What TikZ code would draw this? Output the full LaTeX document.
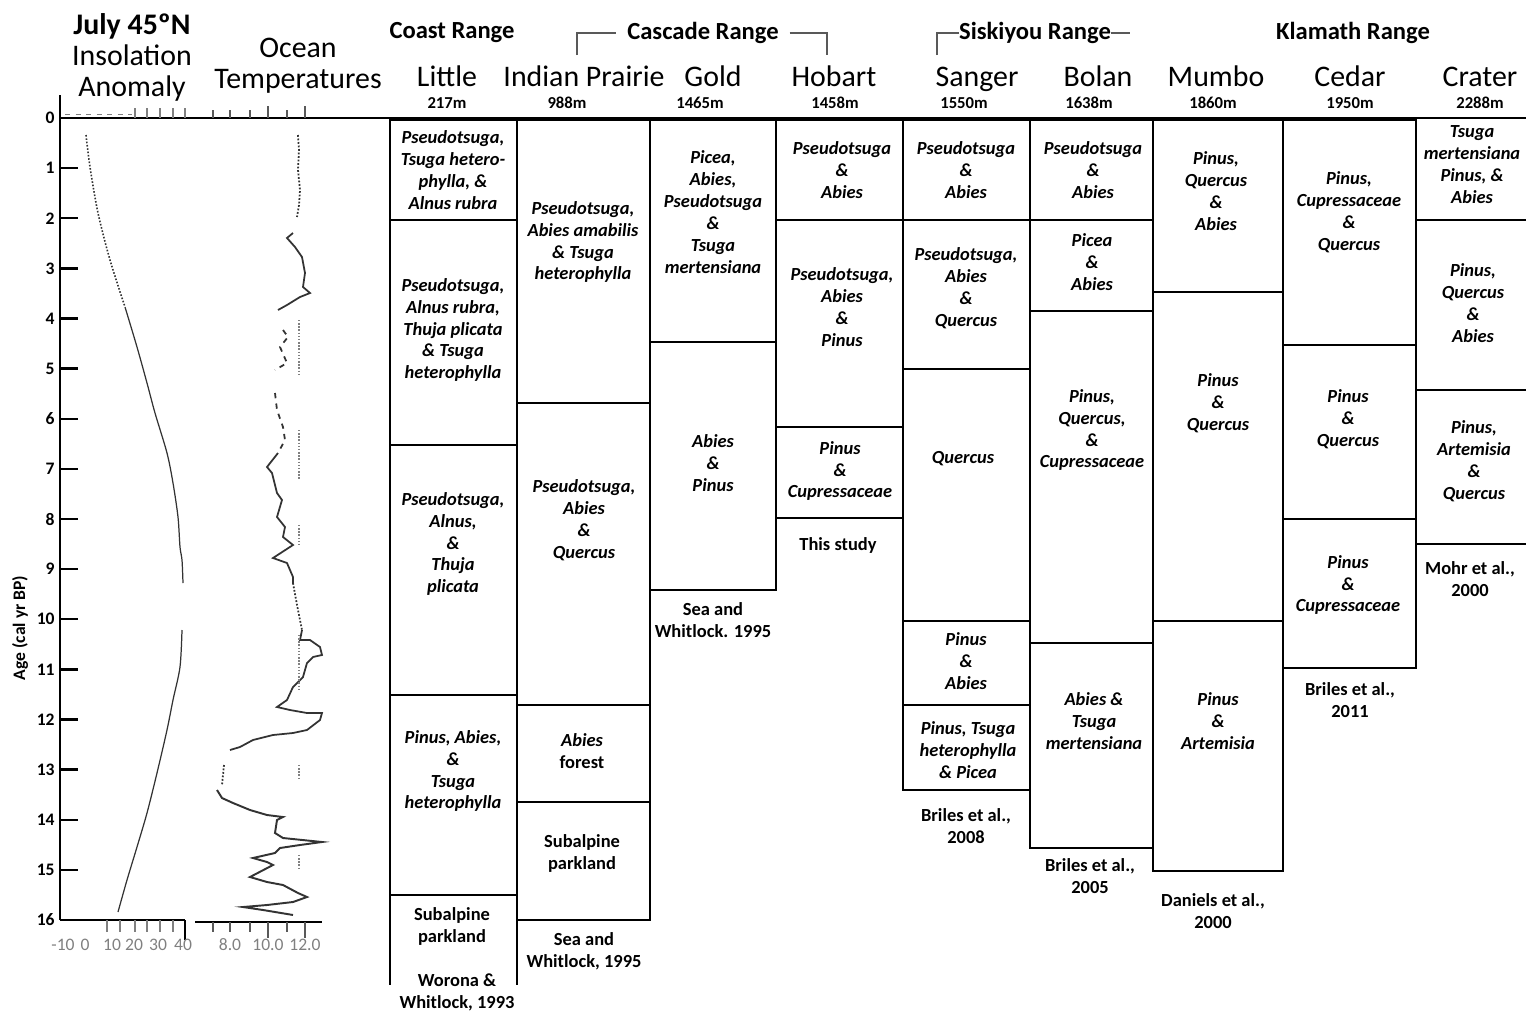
\documentclass[tikz,border=0pt]{standalone}
\usepackage{fontspec}
\setmainfont{Carlito}
\usepackage{tikz}
\usetikzlibrary{positioning}

\begin{document}
\begin{tikzpicture}[x=0.02cm, y=-0.02cm,
  zone/.style={draw, line width=1.4pt},
  taxa/.style={align=center, inner sep=0pt, font=\fontsize{10.5}{12.5}\selectfont\bfseries\itshape},
  cite/.style={align=center, inner sep=0pt, font=\fontsize{10.5}{12.5}\selectfont\bfseries},
  site/.style={inner sep=0pt, anchor=base, font=\fontsize{17}{19}\selectfont},
  elev/.style={inner sep=0pt, font=\fontsize{9.5}{11}\selectfont\bfseries},
  rangename/.style={inner sep=0pt, font=\fontsize{14}{16}\selectfont\bfseries},
  bracket/.style={draw, gray!70!black, line width=1.1pt},
  axnum/.style={inner sep=0pt, font=\fontsize{10}{11}\selectfont\bfseries},
  scalenum/.style={inner sep=0pt, gray, font=\fontsize{10}{11}\selectfont},
  ]
  \useasboundingbox (0,0) rectangle (1526,1015);

  % left panel titles
  \node[align=center, font=\fontsize{17}{17.6}\selectfont] (insol) at (132,57) {\bfseries July 45ºN\\Insolation\\Anomaly};
  \node[align=center, font=\fontsize{17}{17.6}\selectfont] (ocean) at (298,66) {Ocean\\Temperatures};

  % mountain ranges
  \node[rangename] (coast) at (452,33) {Coast Range};
  \node[rangename] (cascade) at (703,33) {Cascade Range};
  \node[rangename] (siskiyou) at (1035,33) {Siskiyou Range};
  \node[rangename] (klamath) at (1353,33) {Klamath Range};
  \draw[bracket] (577,55) |- ([xshift=-6pt]cascade.west);
  \draw[bracket] ([xshift=6pt]cascade.east) -| (827,55);
  \draw[bracket] (937,55) |- (siskiyou.west);
  \draw[bracket] (siskiyou.east) -- (1130,33);

  % sites
  \node[site] (little) at (447,86) {Little};
  \node[site] (indian) at (584,86) {Indian Prairie};
  \node[site] (gold) at (713,86) {Gold};
  \node[site] (hobart) at (834,86) {Hobart};
  \node[site] (sanger) at (977,86) {Sanger};
  \node[site] (bolan) at (1098,86) {Bolan};
  \node[site] (mumbo) at (1216,86) {Mumbo};
  \node[site] (cedar) at (1350,86) {Cedar};
  \node[site] (crater) at (1480,86) {Crater};
  \node[elev] (littlem) at (447,103) {217m};
  \node[elev] (indianm) at (567,103) {988m};
  \node[elev] (goldm) at (700,103) {1465m};
  \node[elev] (hobartm) at (835,103) {1458m};
  \node[elev] (sangerm) at (964,103) {1550m};
  \node[elev] (bolanm) at (1089,103) {1638m};
  \node[elev] (mumbom) at (1213,103) {1860m};
  \node[elev] (cedarm) at (1350,103) {1950m};
  \node[elev] (craterm) at (1480,103) {2288m};

  % age axis
  \draw[line width=1.4pt] (60,118) -- (1526,118);
  \draw[line width=1.6pt] (60,95) -- (60,920);
  \foreach \k in {0,...,16}{
    \draw[line width=1.3pt] (60,118+50.125*\k) -- (78,118+50.125*\k);
    \node[axnum, anchor=east] at (55,118+50.125*\k) {\k};
  }
  \node[axnum, rotate=90] (age) at (20,628) {Age (cal yr BP)};

  % insolation scale
  \draw[line width=1.3pt] (60,920) -- (185,920);
  \foreach \x in {135,147,160,173,185}{
    \draw[gray, line width=0.8pt] (\x,108) -- (\x,118);
    \draw[gray, line width=0.8pt] (\x,920) -- (\x,932);
  }
  \draw[gray, line width=0.8pt] (107,920) -- (107,932) (120,920) -- (120,932);
  \draw[line width=1.3pt] (185,920) -- (185,940);
  \draw[gray, dashed] (65,114) -- (132,114);
  \node[scalenum] (i1) at (63,945) {-10};
  \node[scalenum] (i2) at (85,945) {0};
  \node[scalenum] (i3) at (112,945) {10};
  \node[scalenum] (i4) at (134,945) {20};
  \node[scalenum] (i5) at (158,945) {30};
  \node[scalenum] (i6) at (183,945) {40};

  % ocean temperature scale
  \draw[line width=1.3pt] (195,922) -- (322,922);
  \foreach \x in {213,230,250,287}{
    \draw[gray!70!black, line width=1pt] (\x,110) -- (\x,118);
    \draw[gray!70!black, line width=1pt] (\x,922) -- (\x,932);
  }
  \foreach \x in {268,305}{
    \draw[gray!70!black, line width=1.5pt] (\x,106) -- (\x,118);
    \draw[gray!70!black, line width=1.5pt] (\x,922) -- (\x,938);
  }
  \node[scalenum] (t1) at (230,945) {8.0};
  \node[scalenum] (t2) at (268,945) {10.0};
  \node[scalenum] (t3) at (305,945) {12.0};

  % insolation curve
  \draw[gray!40!black, line width=0.9pt, densely dotted] plot[smooth] coordinates {(86,135) (90,167) (98,213) (110,260) (125,307)};
  \draw[gray!40!black, line width=0.7pt] plot[smooth] coordinates {(125,307) (137,347) (147,383) (155,413) (167,453) (173,483) (178,517) (180,547) (182,560) (183,583)};
  \draw[gray!40!black, line width=0.7pt] plot[smooth] coordinates {(182,630) (180,667) (173,700) (167,730) (157,773) (147,813) (137,847) (127,880) (118,912)};

  % ocean temperature curve
  \draw[gray!40!black, line width=1pt, densely dotted] (298,135) -- (299,150) -- (298,170) -- (300,190) -- (299,205) -- (297,217);
  \draw[gray!40!black, line width=1pt] (293,233) -- (287,238) -- (295,247) -- (302,257) -- (305,273) -- (303,287) -- (310,293) -- (300,297) -- (287,305) -- (278,310);
  \draw[gray!40!black, line width=1pt, dashed] (283,330) -- (288,337) -- (280,347) -- (287,363) -- (275,370);
  \draw[gray!40!black, line width=1pt, dashed] (275,393) -- (277,410) -- (283,427) -- (285,440) -- (278,453);
  \draw[gray!40!black, line width=1pt] (278,453) -- (267,467) -- (272,473) -- (277,493) -- (282,500) -- (277,517) -- (285,527) -- (283,537) -- (293,545) -- (273,558) -- (287,563) -- (293,577) -- (293,583);
  \draw[gray!40!black, line width=1pt, densely dotted] (293,583) -- (297,605) -- (302,630);
  \draw[gray!40!black, line width=1pt] (302,630) -- (300,640) -- (310,640) -- (320,647) -- (322,655) -- (313,657) -- (307,663) -- (303,677) -- (293,687) -- (287,700) -- (277,707) -- (290,710) -- (307,713) -- (322,713) -- (320,720) -- (307,730) -- (293,733) -- (273,735) -- (253,740) -- (240,747) -- (230,750);
  \draw[gray!40!black, line width=1pt, densely dotted] (224,765) -- (222,785);
  \draw[gray!40!black, line width=1.1pt] (217,790) -- (222,798) -- (233,803) -- (250,810) -- (267,815) -- (283,817) -- (277,820) -- (275,833) -- (283,838) -- (322,842) -- (300,845) -- (280,848) -- (275,853) -- (253,858) -- (267,862) -- (273,865) -- (250,877) -- (267,882) -- (283,885) -- (298,893) -- (307,897) -- (293,902) -- (267,905) -- (243,907) -- (263,910) -- (293,915);
  \foreach \a/\b in {320/375,430/480,525/545,635/690,765/778,855/870}
    \draw[gray, line width=0.8pt, densely dotted] (299,\a) -- (299,\b);

  % Little
  \draw[zone] (390,120) rectangle (517,220);
  \draw[zone] (390,220) rectangle (517,445);
  \draw[zone] (390,445) rectangle (517,695);
  \draw[zone] (390,695) rectangle (517,895);
  \draw[zone] (390,895) -- (390,985) (517,895) -- (517,985);
  \node[taxa] (little1) at (453,170) {Pseudotsuga,\\Tsuga hetero-\\phylla, \&\\Alnus rubra};
  \node[taxa] (little2) at (453,330) {Pseudotsuga,\\Alnus rubra,\\Thuja plicata\\\& Tsuga\\heterophylla};
  \node[taxa] (little3) at (453,544) {Pseudotsuga,\\Alnus,\\\&\\Thuja\\plicata};
  \node[taxa] (little4) at (453,771) {Pinus, Abies,\\\&\\Tsuga\\heterophylla};
  \node[cite] (little5) at (452,926) {Subalpine\\parkland};
  \node[cite] (littleref) at (457,992) {Worona \&\\Whitlock, 1993};

  % Indian Prairie
  \draw[zone] (517,120) rectangle (650,403);
  \draw[zone] (517,403) rectangle (650,705);
  \draw[zone] (517,705) rectangle (650,802);
  \draw[zone] (517,802) rectangle (650,920);
  \node[taxa] (indian1) at (583,242) {Pseudotsuga,\\Abies amabilis\\\& Tsuga\\heterophylla};
  \node[taxa] (indian2) at (584,520) {Pseudotsuga,\\Abies\\\&\\Quercus};
  \node[cite] (indian3) at (582,751) {\itshape Abies\\forest};
  \node[cite] (indian4) at (582,853) {Subalpine\\parkland};
  \node[cite] (indianref) at (584,951) {Sea and\\Whitlock, 1995};

  % Gold
  \draw[zone] (650,120) rectangle (776,342);
  \draw[zone] (650,342) rectangle (776,590);
  \node[taxa] (gold1) at (713,212) {Picea,\\Abies,\\Pseudotsuga\\\&\\Tsuga\\mertensiana};
  \node[taxa] (gold2) at (713,463) {Abies\\\&\\Pinus};
  \node[cite] (goldref) at (713,620) {Sea and\\Whitlock. 1995};

  % Hobart
  \draw[zone] (776,120) rectangle (903,220);
  \draw[zone] (776,220) rectangle (903,427);
  \draw[zone] (776,427) rectangle (903,518);
  \node[taxa] (hobart1) at (842,170) {Pseudotsuga\\\&\\Abies};
  \node[taxa] (hobart2) at (842,307) {Pseudotsuga,\\Abies\\\&\\Pinus};
  \node[taxa] (hobart3) at (840,471) {Pinus\\\&\\Cupressaceae};
  \node[cite] (hobartref) at (838,545) {This study};

  % Sanger
  \draw[zone] (903,120) rectangle (1030,220);
  \draw[zone] (903,220) rectangle (1030,369);
  \draw[zone] (903,369) rectangle (1030,621);
  \draw[zone] (903,621) rectangle (1030,705);
  \draw[zone] (903,705) rectangle (1030,790);
  \node[taxa] (sanger1) at (966,170) {Pseudotsuga\\\&\\Abies};
  \node[taxa] (sanger2) at (966,288) {Pseudotsuga,\\Abies\\\&\\Quercus};
  \node[taxa] (sanger3) at (963,459) {Quercus};
  \node[taxa] (sanger4) at (966,661) {Pinus\\\&\\Abies};
  \node[taxa] (sanger5) at (968,750) {Pinus, Tsuga\\heterophylla\\\& Picea};
  \node[cite] (sangerref) at (966,826) {Briles et al.,\\2008};

  % Bolan
  \draw[zone] (1030,120) rectangle (1153,220);
  \draw[zone] (1030,220) rectangle (1153,311);
  \draw[zone] (1030,311) rectangle (1153,643);
  \draw[zone] (1030,643) rectangle (1153,848);
  \node[taxa] (bolan1) at (1093,170) {Pseudotsuga\\\&\\Abies};
  \node[taxa] (bolan2) at (1092,262) {Picea\\\&\\Abies};
  \node[taxa] (bolan3) at (1092,430) {Pinus,\\Quercus,\\\&\\Cupressaceae};
  \node[taxa] (bolan4) at (1094,721) {Abies \&\\Tsuga\\mertensiana};
  \node[cite] (bolanref) at (1090,876) {Briles et al.,\\2005};

  % Mumbo
  \draw[zone] (1153,120) rectangle (1283,292);
  \draw[zone] (1153,292) rectangle (1283,621);
  \draw[zone] (1153,621) rectangle (1283,871);
  \node[taxa] (mumbo1) at (1216,191) {Pinus,\\Quercus\\\&\\Abies};
  \node[taxa] (mumbo2) at (1218,403) {Pinus\\\&\\Quercus};
  \node[taxa] (mumbo3) at (1218,721) {Pinus\\\&\\Artemisia};
  \node[cite] (mumboref) at (1213,911) {Daniels et al.,\\2000};

  % Cedar
  \draw[zone] (1283,120) rectangle (1416,345);
  \draw[zone] (1283,345) rectangle (1416,519);
  \draw[zone] (1283,519) rectangle (1416,668);
  \node[taxa] (cedar1) at (1349,212) {Pinus,\\Cupressaceae\\\&\\Quercus};
  \node[taxa] (cedar2) at (1348,419) {Pinus\\\&\\Quercus};
  \node[taxa] (cedar3) at (1348,585) {Pinus\\\&\\Cupressaceae};
  \node[cite] (cedarref) at (1350,700) {Briles et al.,\\2011};

  % Crater
  \draw[zone] (1416,118) -- (1416,544) -- (1526,544);
  \draw[zone] (1416,220) -- (1526,220) (1416,390) -- (1526,390);
  \node[taxa] (crater1) at (1472,165) {Tsuga\\mertensiana\\Pinus, \&\\Abies};
  \node[taxa] (crater2) at (1473,303) {Pinus,\\Quercus\\\&\\Abies};
  \node[taxa] (crater3) at (1474,461) {Pinus,\\Artemisia\\\&\\Quercus};
  \node[cite] (craterref) at (1470,579) {Mohr et al.,\\2000};
\end{tikzpicture}
\end{document}
